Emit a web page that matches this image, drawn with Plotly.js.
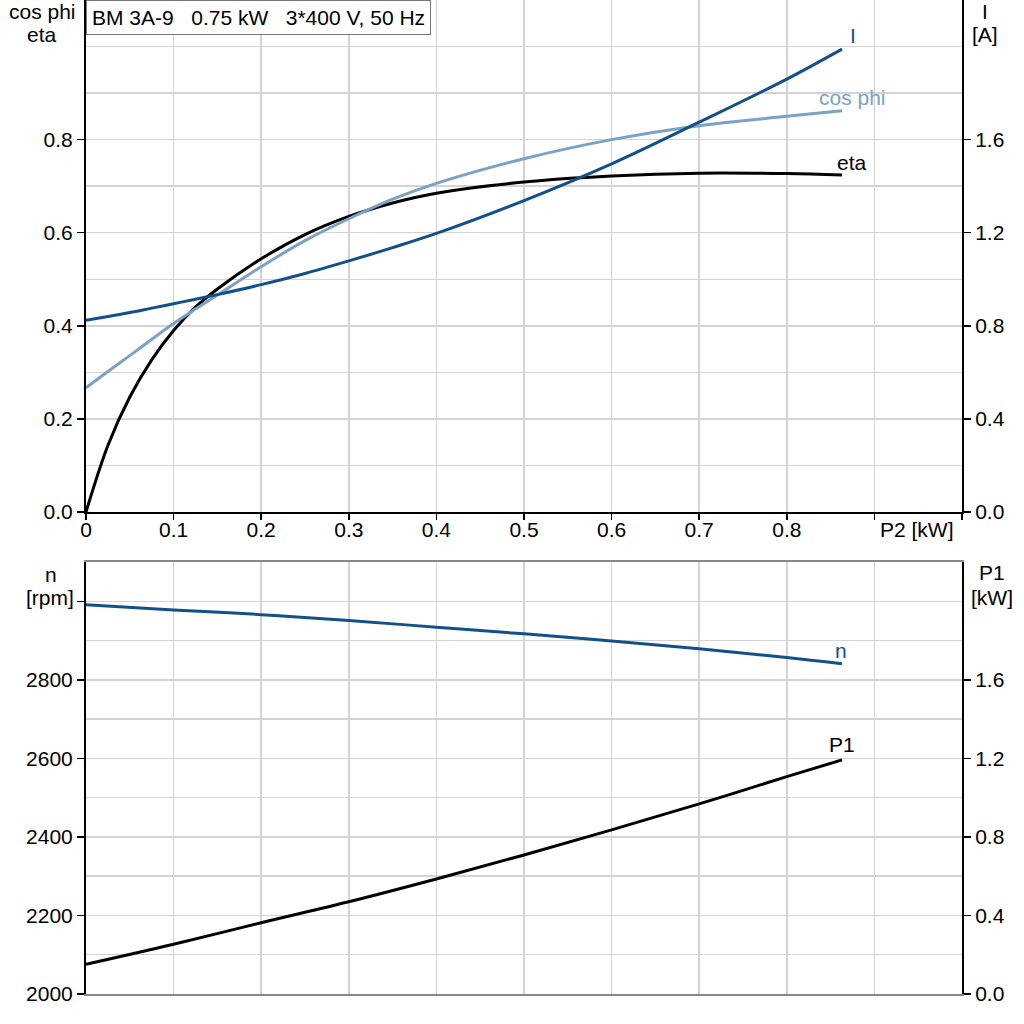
<!DOCTYPE html>
<html>
<head>
<meta charset="utf-8">
<script src="https://cdn.plot.ly/plotly-3.0.1.min.js"></script>
<style>html,body{margin:0;padding:0;background:#fff;}#chart{width:1024px;height:1024px;}</style>
</head>
<body>
<div id="chart"></div>
<script>
// ---- data ----
const P2 = [0, 0.025, 0.05, 0.075, 0.1, 0.125, 0.15, 0.2, 0.25, 0.3, 0.35, 0.4, 0.5, 0.6, 0.7, 0.8, 0.863];
const eta = [0, 0.143, 0.247, 0.327, 0.39, 0.44, 0.479, 0.544, 0.596, 0.635, 0.664, 0.685, 0.709, 0.722, 0.728, 0.727, 0.724];
const cosPhi = [0.267, 0.302, 0.336, 0.371, 0.405, 0.436, 0.466, 0.527, 0.583, 0.630, 0.672, 0.706, 0.759, 0.80, 0.83, 0.85, 0.862];
const current = [0.824, 0.840, 0.857, 0.876, 0.895, 0.914, 0.934, 0.977, 1.025, 1.079, 1.136, 1.197, 1.338, 1.496, 1.675, 1.86, 1.989];

const P2b = [0, 0.1, 0.2, 0.3, 0.4, 0.5, 0.6, 0.7, 0.8, 0.863];
const speed = [2991, 2978, 2966, 2951, 2934, 2917, 2899, 2879, 2857, 2841];
const P1 = [0.151, 0.253, 0.363, 0.47, 0.586, 0.708, 0.836, 0.968, 1.107, 1.192];

const xTickVals = [0, 0.1, 0.2, 0.3, 0.4, 0.5, 0.6, 0.7, 0.8, 0.9, 1.0];
const xTickText = ['0', '0.1', '0.2', '0.3', '0.4', '0.5', '0.6', '0.7', '0.8', '', ''];
const xUnitLabel = 'P2 [kW]';
const leftTopTicks = [0, 0.2, 0.4, 0.6, 0.8];
const rightTopTicks = [0, 0.4, 0.8, 1.2, 1.6];
const nTicks = [2000, 2200, 2400, 2600, 2800, 3000];
const nTickText = ['2000', '2200', '2400', '2600', '2800', ''];
const p1Ticks = [0, 0.4, 0.8, 1.2, 1.6];

const titleText = 'BM 3A-9   0.75 kW   3*400 V, 50 Hz';

// ---- styling ----
const DARK = '#12508a';
const LIGHT = '#7ca1c4';
const GRID = '#d3d3d3';
const FONT = 'Liberation Sans, Arial, sans-serif';
const FS = 21;
const last = a => a[a.length - 1];

const ln = (c) => ({color: c, width: 3, shape: 'spline', smoothing: 1});

const traces = [
  {x: P2, y: eta, xaxis: 'x', yaxis: 'y', mode: 'lines', line: ln('#000'), name: 'eta'},
  {x: P2, y: cosPhi, xaxis: 'x', yaxis: 'y', mode: 'lines', line: ln(LIGHT), name: 'cos phi'},
  {x: P2, y: current, xaxis: 'x', yaxis: 'y2', mode: 'lines', line: ln(DARK), name: 'I'},
  {x: P2b, y: speed, xaxis: 'x2', yaxis: 'y3', mode: 'lines', line: ln(DARK), name: 'n'},
  {x: P2b, y: P1, xaxis: 'x2', yaxis: 'y4', mode: 'lines', line: ln('#000'), name: 'P1'}
];

const tf = {family: FONT, size: FS, color: '#000'};
const minorGrid = (d) => ({tickmode: 'linear', tick0: 0, dtick: d, showgrid: true, gridcolor: GRID, gridwidth: 1.5, ticks: ''});

const topDom = [(994 - 512) / 994, 1];
const botDom = [0, (994 - 562) / 994];
const px = p => (p - 86) / 876;
const py = p => (994 - p) / 994;

const ann = (text, x, y, color) => ({
  text, xref: 'paper', yref: 'paper', x: px(x), y: py(y), xanchor: 'center', yanchor: 'middle',
  showarrow: false, font: {family: FONT, size: FS, color: color || '#000'}
});
const curveLab = (text, xr, yr, x, y, dx, dy, color) => ({
  text, xref: xr, yref: yr, x, y, xanchor: 'center', yanchor: 'middle', xshift: dx, yshift: dy,
  showarrow: false, font: {family: FONT, size: FS, color}
});

const layout = {
  width: 1024, height: 1024,
  margin: {l: 86, r: 62, t: 0, b: 30, pad: 0},
  paper_bgcolor: '#fff', plot_bgcolor: '#fff',
  showlegend: false,
  font: tf,
  xaxis: {
    domain: [0, 1], range: [0, 1.0], anchor: 'y',
    tickmode: 'array', tickvals: xTickVals, ticktext: xTickText,
    ticks: 'outside', ticklen: 6, tickwidth: 1.5, tickcolor: '#000',
    ticklabelstandoff: -8,
    showgrid: true, gridcolor: GRID, gridwidth: 1.5,
    showline: true, linecolor: '#000', linewidth: 2, zeroline: false,
    tickfont: tf
  },
  yaxis: {
    domain: topDom, range: [0, 1.1], anchor: 'x',
    tickmode: 'array', tickvals: leftTopTicks, tickformat: '.1f',
    ticks: 'outside', ticklen: 7, tickwidth: 1.5, tickcolor: '#000',
    showgrid: true, gridcolor: GRID, gridwidth: 1.5,
    minor: minorGrid(0.1),
    showline: true, linecolor: '#000', linewidth: 2, zeroline: false,
    tickfont: tf
  },
  yaxis2: {
    range: [0, 2.2], overlaying: 'y', side: 'right', anchor: 'x',
    tickmode: 'array', tickvals: rightTopTicks, tickformat: '.1f',
    ticks: 'outside', ticklen: 7, tickwidth: 1.5, tickcolor: '#000',
    showgrid: false, showline: true, linecolor: '#000', linewidth: 2, zeroline: false,
    tickfont: tf
  },
  xaxis2: {
    domain: [0, 1], range: [0, 1.0], anchor: 'y3',
    tickmode: 'linear', tick0: 0, dtick: 0.1, showticklabels: false, ticks: '',
    showgrid: true, gridcolor: GRID, gridwidth: 1.5,
    showline: true, mirror: true, linecolor: '#888', linewidth: 2, zeroline: false
  },
  yaxis3: {
    domain: botDom, range: [2000, 3100], anchor: 'x2',
    tickmode: 'array', tickvals: nTicks, ticktext: nTickText,
    ticks: 'outside', ticklen: 7, tickwidth: 1.5, tickcolor: '#000',
    showgrid: true, gridcolor: GRID, gridwidth: 1.5,
    minor: minorGrid(100),
    showline: true, linecolor: '#000', linewidth: 2, zeroline: false,
    tickfont: tf
  },
  yaxis4: {
    range: [0, 2.2], overlaying: 'y3', side: 'right', anchor: 'x2',
    tickmode: 'array', tickvals: p1Ticks, tickformat: '.1f',
    ticks: 'outside', ticklen: 7, tickwidth: 1.5, tickcolor: '#000',
    showgrid: false, showline: true, linecolor: '#000', linewidth: 2, zeroline: false,
    tickfont: tf
  },
  annotations: [
    {text: titleText, xref: 'paper', yref: 'paper', x: 0, y: 1, xanchor: 'left', yanchor: 'top',
     showarrow: false, bgcolor: '#fff', bordercolor: '#777', borderwidth: 1, borderpad: 5,
     font: {family: FONT, size: FS, color: '#000'}},
    ann('cos phi', 42, 12), ann('eta', 42, 35),
    ann('I', 985, 12), ann('[A]', 985, 35),
    ann('n', 51, 574), ann('[rpm]', 50, 597),
    ann('P1', 992, 572), ann('[kW]', 992, 597),
    ann(xUnitLabel, 917, 529),
    curveLab('I', 'x', 'y2', last(P2), last(current), 11, 14, DARK),
    curveLab('cos phi', 'x', 'y', last(P2), last(cosPhi), 11, 13, LIGHT),
    curveLab('eta', 'x', 'y', last(P2), last(eta), 10, 13, '#000'),
    curveLab('n', 'x2', 'y3', last(P2b), last(speed), -1, 13, DARK),
    curveLab('P1', 'x2', 'y4', last(P2b), last(P1), 0, 15, '#000')
  ]
};

Plotly.newPlot('chart', traces, layout, {staticPlot: true, displayModeBar: false});
</script>
</body>
</html>
